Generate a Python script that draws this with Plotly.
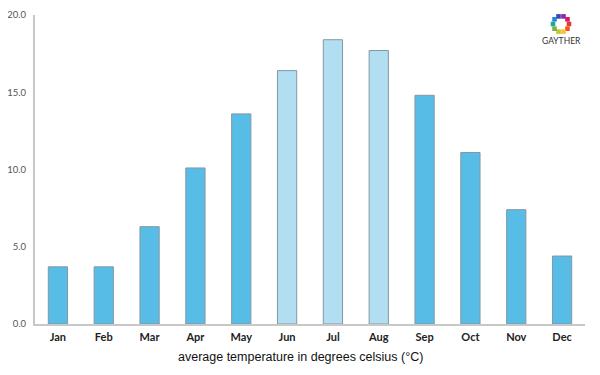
import plotly.graph_objects as go
import math

months = ["Jan", "Feb", "Mar", "Apr", "May", "Jun", "Jul", "Aug", "Sep", "Oct", "Nov", "Dec"]
temps = [3.7, 3.7, 6.3, 10.1, 13.6, 16.4, 18.4, 17.7, 14.8, 11.1, 7.4, 4.4]
summer = ["Jun", "Jul", "Aug"]
y_ticks = [0, 5, 10, 15, 20]
x_title = "average temperature in degrees celsius (°C)"

dark = "#57BDE6"
light = "#B1DFF1"
colors = [light if m in summer else dark for m in months]

fig = go.Figure(go.Bar(
    x=months, y=temps,
    marker=dict(color=colors, line=dict(color="#8497a4", width=1)),
    width=0.42,
))

# logo ring (decoration), in pixel-ish paper units
W, H = 592, 367
L, R, T, B = 27, 15, 7, 51
pw, ph = W - L - R, H - T - B
def px(x):
    return (x - 8 - L) / pw
def py(y):
    return 1 - (y - 8 - T) / ph

logo_cols = ["#e53935", "#f4511e", "#fbc02d", "#c0ca33", "#7cb342", "#26a69a",
             "#1e88e5", "#3949ab", "#8e24aa", "#d81b60"]
shapes = []
cxp, cyp, rp = 561, 24, 8
for i, c in enumerate(logo_cols):
    a = 2 * math.pi * i / len(logo_cols)
    x0 = cxp + rp * math.cos(a)
    y0 = cyp + rp * math.sin(a)
    shapes.append(dict(type="rect", xref="paper", yref="paper",
                       x0=px(x0 - 2.3), x1=px(x0 + 2.3), y0=py(y0 + 2.3), y1=py(y0 - 2.3),
                       fillcolor=c, line=dict(width=0)))

fig.update_layout(
    width=W, height=H,
    margin=dict(l=L, r=R, t=T, b=B),
    paper_bgcolor="white", plot_bgcolor="white",
    showlegend=False,
    font=dict(family="Lato, sans-serif"),
    shapes=shapes,
    xaxis=dict(
        automargin=False,
        showline=True, linecolor="#c8c8c8", linewidth=2,
        ticks="", showgrid=False,
        ticklabelstandoff=2,
        tickfont=dict(size=11, color="#222", family="Lato, sans-serif", weight="bold"),
    ),
    yaxis=dict(
        automargin=False,
        range=[0, 20], tickvals=y_ticks, tickformat=".1f",
        showline=True, linecolor="#c8c8c8", linewidth=2,
        ticks="", showgrid=False, zeroline=False,
        tickfont=dict(size=9.5, color="#555"),
        ticklabelstandoff=5,
    ),
    annotations=[
        dict(text="GAYTHER", xref="paper", yref="paper", x=px(561), y=py(41),
             xanchor="center", yanchor="middle",
             showarrow=False, font=dict(size=8.5, color="#333", family="Lato")),
        dict(text=x_title, xref="paper", yref="paper", x=px(300), y=py(357),
             xanchor="center", yanchor="middle",
             showarrow=False, font=dict(size=12.5, color="#111", family="Liberation Sans, Arial")),
    ],
)

fig.write_html("out.html")
